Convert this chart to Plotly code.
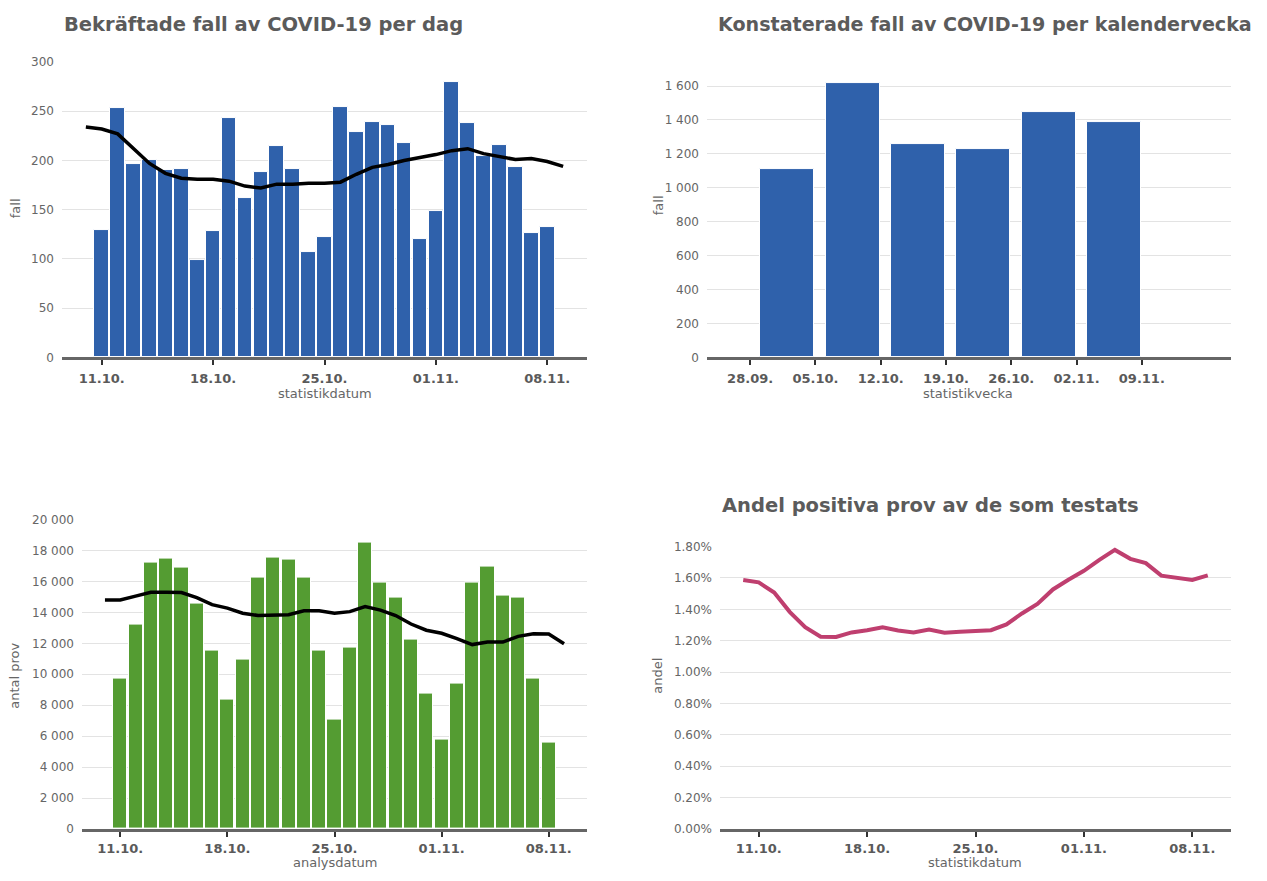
import plotly.graph_objects as go

# Daily data, 11.10 - 08.11 (bars) and 10.10 - 09.11 (lines)
bar_dates = [
    "2020-10-11", "2020-10-12", "2020-10-13", "2020-10-14", "2020-10-15",
    "2020-10-16", "2020-10-17", "2020-10-18", "2020-10-19", "2020-10-20",
    "2020-10-21", "2020-10-22", "2020-10-23", "2020-10-24", "2020-10-25",
    "2020-10-26", "2020-10-27", "2020-10-28", "2020-10-29", "2020-10-30",
    "2020-10-31", "2020-11-01", "2020-11-02", "2020-11-03", "2020-11-04",
    "2020-11-05", "2020-11-06", "2020-11-07", "2020-11-08",
]
line_dates = ["2020-10-10"] + bar_dates + ["2020-11-09"]
day_ticks = ["2020-10-11", "2020-10-18", "2020-10-25", "2020-11-01", "2020-11-08"]

cases_daily = [129, 253, 196, 200, 190, 191, 99, 128, 243, 162,
               188, 215, 191, 107, 122, 254, 229, 239, 236, 218,
               120, 149, 280, 238, 205, 216, 193, 126, 132]
cases_avg = [234, 232, 227, 212, 197, 187, 182, 181, 181, 179, 174,
             172, 176, 176, 177, 177, 178, 186, 193, 196, 200,
             203, 206, 210, 212, 207, 204, 201, 202, 199, 194]

tests_daily = [9750, 13200, 17250, 17500, 16900, 14600, 11500, 8350, 10950, 16250,
               17550, 17400, 16250, 11550, 7100, 11750, 18500, 15900, 14950, 12250,
               8750, 5800, 9400, 15900, 16950, 15100, 14950, 9750, 5600]
tests_avg = [14800, 14800, 15050, 15300, 15300, 15280, 14950, 14500, 14280, 13950, 13800,
             13800, 13850, 14100, 14100, 13950, 14050, 14380, 14150, 13800, 13250,
             12850, 12650, 12300, 11920, 12080, 12080, 12450, 12620, 12600, 11970]

pos_share = [0.01587, 0.01572, 0.01507, 0.01384, 0.01287, 0.01226, 0.01224, 0.01253,
             0.01267, 0.01285, 0.01265, 0.01253, 0.01271, 0.01251, 0.01257, 0.01265,
             0.01267, 0.01304, 0.01374, 0.01435, 0.01527, 0.01589, 0.01646, 0.01716,
             0.01779, 0.01722, 0.01695, 0.01615, 0.01603, 0.01587, 0.01617]

# Weekly data
week_starts = ["2020-09-28", "2020-10-05", "2020-10-12", "2020-10-19", "2020-10-26", "2020-11-02"]
week_ticks = week_starts + ["2020-11-09"]
cases_weekly = [1110, 1618, 1257, 1228, 1445, 1390]

# Style
FONT = "DejaVu Sans"
BLUE = "#2f61ab"
GREEN = "#549c32"
PINK = "#bf3f6f"
GRID = "#e3e3e3"
GREY = "#666666"
TITLE = "#5b5b5b"
DAY = 86400000

# The autosized graph div sits at (8, 15) in the window and is about 1251 x 850.
# Positions below are given in window pixels and converted to paper fractions.
X0, Y0, PW, PH = 8, 15, 1251, 850


def fx(px):
    return (px - X0) / PW


def fy(py):
    return 1 - (py - Y0) / PH


def dom_x(a, b):
    return [fx(a), fx(b)]


def dom_y(top, bottom):
    return [fy(bottom), fy(top)]


fig = go.Figure()

# Top left: daily cases
fig.add_trace(go.Bar(x=bar_dates, y=cases_daily, width=0.92 * DAY,
                     marker=dict(color=BLUE, line=dict(color="white", width=1)),
                     xaxis="x", yaxis="y"))
fig.add_trace(go.Scatter(x=line_dates, y=cases_avg, mode="lines",
                         line=dict(color="black", width=3.5),
                         xaxis="x", yaxis="y"))

# Top right: weekly cases
fig.add_trace(go.Bar(x=week_starts, y=cases_weekly, width=5.8 * DAY, offset=1.1 * DAY,
                     marker=dict(color=BLUE, line=dict(color="white", width=1)),
                     xaxis="x2", yaxis="y2"))

# Bottom left: tests
fig.add_trace(go.Bar(x=bar_dates, y=tests_daily, width=0.92 * DAY,
                     marker=dict(color=GREEN, line=dict(color="white", width=1)),
                     xaxis="x3", yaxis="y3"))
fig.add_trace(go.Scatter(x=line_dates, y=tests_avg, mode="lines",
                         line=dict(color="black", width=3.5),
                         xaxis="x3", yaxis="y3"))

# Bottom right: positive share
fig.add_trace(go.Scatter(x=line_dates, y=pos_share, mode="lines",
                         line=dict(color=PINK, width=4),
                         xaxis="x4", yaxis="y4"))

xcommon = dict(type="date", tickformat="%d.%m.", showgrid=False,
               showline=True, linecolor=GREY, linewidth=3,
               ticks="outside", ticklen=5, tickwidth=2, tickcolor="#333333",
               tickfont=dict(family=FONT, size=13, color="#5a5a5a", weight="bold"),
               ticklabelstandoff=2, fixedrange=True)
ycommon = dict(showgrid=True, gridcolor=GRID, gridwidth=1, zeroline=False,
               showline=False, ticks="", ticklabelstandoff=7, tickformat=",",
               tickfont=dict(family=FONT, size=12, color=GREY), fixedrange=True)

daily_range = ["2020-10-08 12:00", "2020-11-10 12:00"]
BOT = 828  # bottom row axis line (the page ends a little higher than the reference)

fig.update_layout(
    margin=dict(l=0, r=0, t=0, b=0),
    paper_bgcolor="white", plot_bgcolor="white",
    showlegend=False, bargap=0,
    separators=". ",
    font=dict(family=FONT, color=GREY),
    xaxis=dict(xcommon, domain=dom_x(62, 587), anchor="y", range=daily_range,
               tickvals=day_ticks),
    yaxis=dict(ycommon, domain=dom_y(62, 357), anchor="x", range=[0, 300], dtick=50),
    xaxis2=dict(xcommon, domain=dom_x(707, 1231), anchor="y2",
                range=["2020-09-23 09:00", "2020-11-18 13:30"], tickvals=week_ticks),
    yaxis2=dict(ycommon, domain=dom_y(69, 357), anchor="x2", range=[0, 1700], dtick=200),
    xaxis3=dict(xcommon, domain=dom_x(82, 587), anchor="y3", range=daily_range,
                tickvals=day_ticks, ticklabelstandoff=0),
    yaxis3=dict(ycommon, domain=dom_y(519, BOT), anchor="x3", range=[0, 20000], dtick=2000),
    xaxis4=dict(xcommon, domain=dom_x(720, 1231), anchor="y4", range=daily_range,
                tickvals=day_ticks, ticklabelstandoff=0),
    yaxis4=dict(ycommon, domain=dom_y(546, BOT), anchor="x4", range=[0, 0.018],
                dtick=0.002, tickformat=".2%"),
)


# Titles and axis titles as pixel-placed annotations
def note(text, x, y, size=13, color=GREY, bold=False, angle=0, xanchor="center"):
    fig.add_annotation(text=text, x=fx(x), y=fy(y), xref="paper", yref="paper",
                       showarrow=False, textangle=angle, xanchor=xanchor, yanchor="middle",
                       font=dict(family=FONT, size=size, color=color,
                                 weight="bold" if bold else "normal"))


note("Bekräftade fall av COVID-19 per dag", 62, 24, size=19.5, color=TITLE, bold=True, xanchor="left")
note("Konstaterade fall av COVID-19 per kalendervecka", 716, 24, size=19.1, color=TITLE, bold=True, xanchor="left")
note("Andel positiva prov av de som testats", 720, 505, size=19.5, color=TITLE, bold=True, xanchor="left")

note("statistikdatum", 325, 393)
note("statistikvecka", 968, 393)
note("analysdatum", 335, 862)
note("statistikdatum", 975, 862)

note("fall", 15, 208, angle=-90)
note("fall", 658, 205, angle=-90)
note("antal prov", 15, 675, angle=-90)
note("andel", 658, 675, angle=-90)

fig.write_html("out.html")
